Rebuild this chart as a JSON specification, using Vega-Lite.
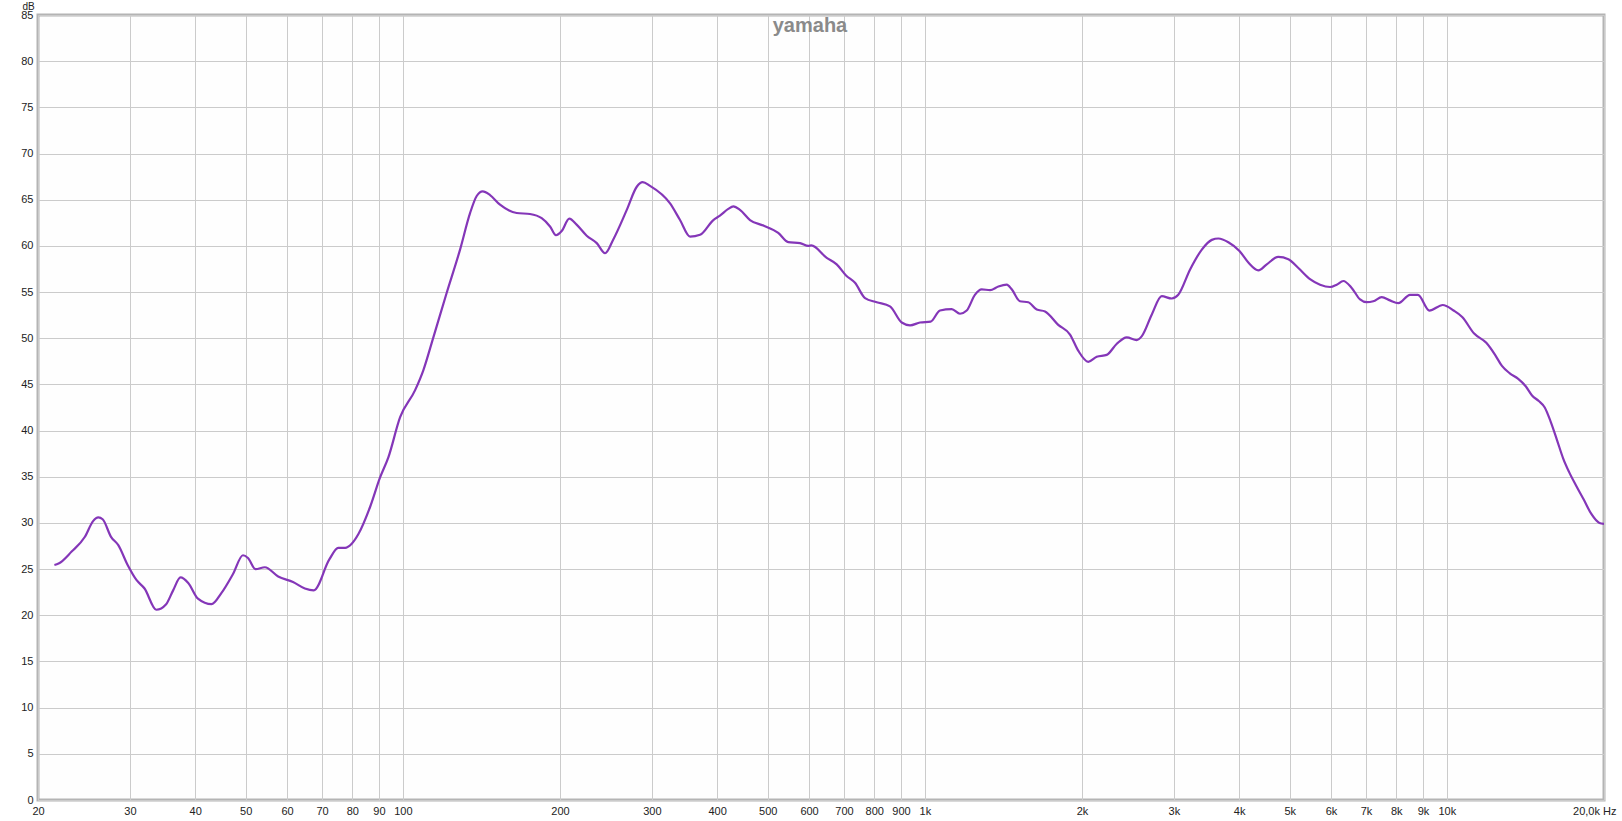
{
  "$schema": "https://vega.github.io/schema/vega-lite/v6.json",
  "autosize": {"type": "none"},
  "padding": {"left": 38, "top": 15, "right": 18, "bottom": 21},
  "width": 1566,
  "height": 785,
  "background": "#ffffff",
  "title": {"text": "yamaha", "anchor": "middle", "orient": "top", "offset": -51, "dx": -11, "fontSize": 20, "fontWeight": "bold", "color": "#8a8a8a", "font": "Liberation Sans", "baseline": "alphabetic"},
  "config": {
    "view": {"stroke": "#b4b4b4", "strokeWidth": 3, "fill": "#fefefe"},
    "axis": {"labelFont": "Liberation Sans", "labelFontSize": 11, "labelColor": "#222222", "titleFont": "Liberation Sans", "gridColor": "#cbcbcb", "gridWidth": 1, "gridOpacity": 1, "domain": false, "ticks": false}
  },
  "data": {"values": [
    {"f": 21.5, "db": 25.45}, {"f": 21.9, "db": 25.6}, {"f": 23.2, "db": 26.9}, {"f": 24.6, "db": 28.5}, {"f": 25.5, "db": 30.2}, {"f": 26.1, "db": 30.6}, {"f": 26.6, "db": 30.4}, {"f": 27.6, "db": 28.5}, {"f": 28.5, "db": 27.6}, {"f": 29.7, "db": 25.45},
    {"f": 30.9, "db": 23.8}, {"f": 32.0, "db": 22.9}, {"f": 33.7, "db": 20.6}, {"f": 35.2, "db": 21.2}, {"f": 36.3, "db": 22.7}, {"f": 37.5, "db": 24.1}, {"f": 38.8, "db": 23.5}, {"f": 40.5, "db": 21.8}, {"f": 43.0, "db": 21.2}, {"f": 44.9, "db": 22.4},
    {"f": 47.3, "db": 24.5}, {"f": 49.4, "db": 26.5}, {"f": 50.5, "db": 26.2}, {"f": 52.2, "db": 25.0}, {"f": 54.4, "db": 25.2}, {"f": 57.7, "db": 24.2}, {"f": 61.6, "db": 23.6}, {"f": 64.9, "db": 22.9}, {"f": 67.5, "db": 22.7}, {"f": 72.3, "db": 26.05},
    {"f": 75.2, "db": 27.3}, {"f": 77.5, "db": 27.3}, {"f": 79.8, "db": 27.75}, {"f": 82.2, "db": 28.8}, {"f": 86.5, "db": 31.7}, {"f": 90.4, "db": 34.9}, {"f": 93.8, "db": 37.1}, {"f": 98.8, "db": 41.45}, {"f": 105.5, "db": 44.35}, {"f": 109.4, "db": 46.5},
    {"f": 114.4, "db": 50.1}, {"f": 121.3, "db": 54.9}, {"f": 128.7, "db": 59.6}, {"f": 134.5, "db": 63.55}, {"f": 138.5, "db": 65.4}, {"f": 142.2, "db": 65.9}, {"f": 146.9, "db": 65.5}, {"f": 153.5, "db": 64.46}, {"f": 165.2, "db": 63.56}, {"f": 175.2, "db": 63.45},
    {"f": 184.5, "db": 63.0}, {"f": 191.4, "db": 62.1}, {"f": 196.5, "db": 61.15}, {"f": 201.5, "db": 61.6}, {"f": 208.4, "db": 62.95}, {"f": 215.2, "db": 62.3}, {"f": 225, "db": 61.1}, {"f": 235.2, "db": 60.3}, {"f": 244, "db": 59.2}, {"f": 253, "db": 60.7},
    {"f": 268.5, "db": 63.9}, {"f": 280.6, "db": 66.4}, {"f": 288, "db": 66.9}, {"f": 297.5, "db": 66.5}, {"f": 325, "db": 64.6}, {"f": 339.6, "db": 62.8}, {"f": 355, "db": 61.0}, {"f": 371, "db": 61.2}, {"f": 393.4, "db": 62.8}, {"f": 405, "db": 63.27},
    {"f": 420.2, "db": 64.0}, {"f": 429.6, "db": 64.28}, {"f": 442.4, "db": 63.9}, {"f": 462.4, "db": 62.8}, {"f": 490.4, "db": 62.2}, {"f": 523.7, "db": 61.4}, {"f": 547.4, "db": 60.4}, {"f": 576.6, "db": 60.3}, {"f": 598.2, "db": 60.0}, {"f": 606, "db": 60.05},
    {"f": 648.6, "db": 58.7}, {"f": 677.8, "db": 58.0}, {"f": 706.3, "db": 56.8}, {"f": 734.8, "db": 56.0}, {"f": 768, "db": 54.35}, {"f": 808.6, "db": 53.9}, {"f": 857.4, "db": 53.45}, {"f": 903, "db": 51.7}, {"f": 936.6, "db": 51.4}, {"f": 978.8, "db": 51.7},
    {"f": 1026, "db": 51.8}, {"f": 1069, "db": 53.0}, {"f": 1125.6, "db": 53.15}, {"f": 1167.6, "db": 52.65}, {"f": 1202.6, "db": 53.0}, {"f": 1247, "db": 54.7}, {"f": 1285, "db": 55.3}, {"f": 1333, "db": 55.2}, {"f": 1383, "db": 55.6}, {"f": 1435, "db": 55.8},
    {"f": 1467, "db": 55.3}, {"f": 1521, "db": 54.0}, {"f": 1578, "db": 53.9}, {"f": 1638, "db": 53.1}, {"f": 1699, "db": 52.9}, {"f": 1801, "db": 51.45}, {"f": 1897, "db": 50.4}, {"f": 1967, "db": 48.65}, {"f": 2056, "db": 47.45}, {"f": 2134, "db": 48.0},
    {"f": 2230, "db": 48.2}, {"f": 2332, "db": 49.4}, {"f": 2436, "db": 50.1}, {"f": 2546, "db": 49.8}, {"f": 2602, "db": 50.2}, {"f": 2720, "db": 52.55}, {"f": 2843, "db": 54.55}, {"f": 2971, "db": 54.3}, {"f": 3058, "db": 54.7}, {"f": 3222, "db": 57.45},
    {"f": 3393, "db": 59.6}, {"f": 3546, "db": 60.65}, {"f": 3650, "db": 60.8}, {"f": 3814, "db": 60.4}, {"f": 4006, "db": 59.45}, {"f": 4166, "db": 58.2}, {"f": 4354, "db": 57.35}, {"f": 4518, "db": 58.0}, {"f": 4754, "db": 58.8}, {"f": 4970, "db": 58.55},
    {"f": 5194, "db": 57.6}, {"f": 5468, "db": 56.4}, {"f": 5716, "db": 55.8}, {"f": 5974, "db": 55.55}, {"f": 6152, "db": 55.8}, {"f": 6334, "db": 56.2}, {"f": 6572, "db": 55.45}, {"f": 6820, "db": 54.2}, {"f": 7023, "db": 53.9}, {"f": 7228, "db": 54.0},
    {"f": 7504, "db": 54.45}, {"f": 7780, "db": 54.1}, {"f": 8072, "db": 53.8}, {"f": 8500, "db": 54.7}, {"f": 8800, "db": 54.7}, {"f": 9260, "db": 53.0}, {"f": 9820, "db": 53.6}, {"f": 10300, "db": 53.0}, {"f": 10700, "db": 52.3}, {"f": 11280, "db": 50.5},
    {"f": 11900, "db": 49.5}, {"f": 12370, "db": 48.2}, {"f": 12750, "db": 47.0}, {"f": 13200, "db": 46.2}, {"f": 13700, "db": 45.6}, {"f": 14160, "db": 44.8}, {"f": 14560, "db": 43.8}, {"f": 15000, "db": 43.2}, {"f": 15400, "db": 42.5}, {"f": 15800, "db": 41.0},
    {"f": 16250, "db": 39.0}, {"f": 16700, "db": 37.0}, {"f": 17150, "db": 35.5}, {"f": 17700, "db": 34.0}, {"f": 18300, "db": 32.5}, {"f": 18900, "db": 31.0}, {"f": 19600, "db": 30.0}, {"f": 20000, "db": 29.9}
  ]},
  "mark": {"type": "line", "interpolate": "monotone", "color": "#8436b8", "strokeWidth": 2.2, "clip": true},
  "encoding": {
    "x": {
      "field": "f", "type": "quantitative",
      "scale": {"type": "log", "domain": [20, 20000], "nice": false},
      "axis": {
        "title": null,
        "values": [20, 30, 40, 50, 60, 70, 80, 90, 100, 200, 300, 400, 500, 600, 700, 800, 900, 1000, 2000, 3000, 4000, 5000, 6000, 7000, 8000, 9000, 10000, 20000],
        "labelExpr": "datum.value >= 20000 ? '20,0k Hz' : (datum.value >= 1000 ? (datum.value / 1000) + 'k' : '' + datum.value)",
        "labelFlush": false,
        "labelOverlap": false,
        "labelBound": false,
        "labelPadding": 5,
        "labelAlign": {"condition": {"test": "datum.value >= 20000", "value": "right"}, "value": "center"},
        "labelOffset": {"condition": {"test": "datum.value >= 20000", "value": 12}, "value": 0}
      }
    },
    "y": {
      "field": "db", "type": "quantitative",
      "scale": {"domain": [0, 85], "nice": false, "zero": false},
      "axis": {
        "title": "dB",
        "titleAngle": 0,
        "titleX": -10,
        "titleY": -6,
        "titleAlign": "center",
        "titleBaseline": "alphabetic",
        "titleFontSize": 10,
        "titleFontWeight": "normal",
        "titleColor": "#222222",
        "values": [0, 5, 10, 15, 20, 25, 30, 35, 40, 45, 50, 55, 60, 65, 70, 75, 80, 85],
        "labelPadding": 5,
        "labelOverlap": false,
        "labelFlush": false
      }
    }
  }
}
